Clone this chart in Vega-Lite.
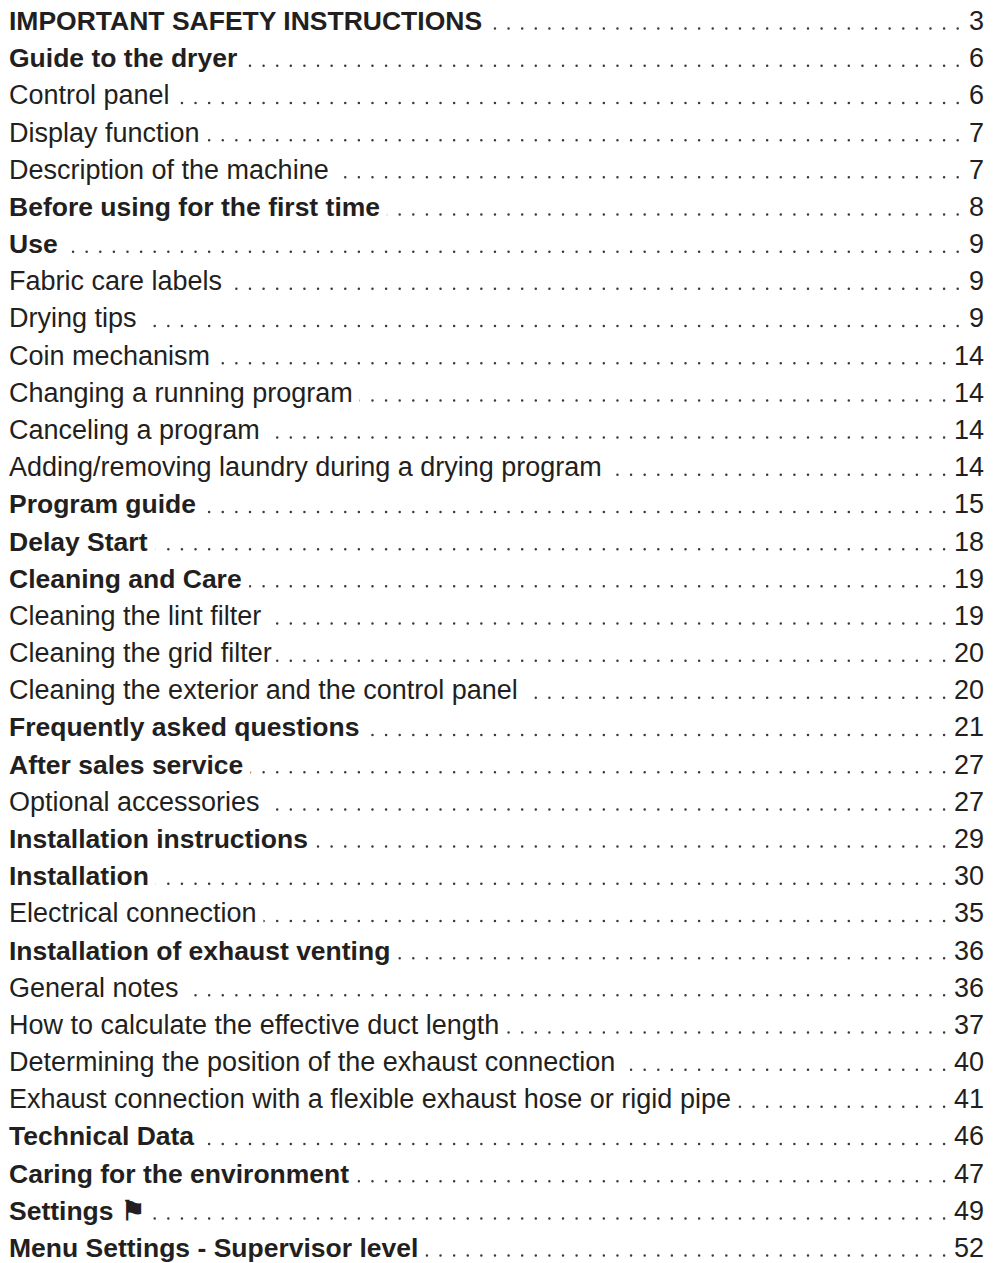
{
  "$schema": "https://vega.github.io/schema/vega-lite/v6.json",
  "width": 975,
  "height": 1227,
  "autosize": {"type": "none"},
  "padding": {"left": 9, "right": 10, "top": 30, "bottom": 6},
  "background": "white",
  "view": {"stroke": null},
  "config": {"text": {"font": "Liberation Sans", "fontSize": 27, "color": "#231f20"}},
  "data": {"values": [
    {"order": 1, "title": "IMPORTANT SAFETY INSTRUCTIONS", "page": "3", "level": 1},
    {"order": 2, "title": "Guide to the dryer", "page": "6", "level": 1},
    {"order": 3, "title": "Control panel", "page": "6", "level": 2},
    {"order": 4, "title": "Display function", "page": "7", "level": 2},
    {"order": 5, "title": "Description of the machine", "page": "7", "level": 2},
    {"order": 6, "title": "Before using for the first time", "page": "8", "level": 1},
    {"order": 7, "title": "Use", "page": "9", "level": 1},
    {"order": 8, "title": "Fabric care labels", "page": "9", "level": 2},
    {"order": 9, "title": "Drying tips", "page": "9", "level": 2},
    {"order": 10, "title": "Coin mechanism", "page": "14", "level": 2},
    {"order": 11, "title": "Changing a running program", "page": "14", "level": 2},
    {"order": 12, "title": "Canceling a program", "page": "14", "level": 2},
    {"order": 13, "title": "Adding/removing laundry during a drying program", "page": "14", "level": 2},
    {"order": 14, "title": "Program guide", "page": "15", "level": 1},
    {"order": 15, "title": "Delay Start", "page": "18", "level": 1},
    {"order": 16, "title": "Cleaning and Care", "page": "19", "level": 1},
    {"order": 17, "title": "Cleaning the lint filter", "page": "19", "level": 2},
    {"order": 18, "title": "Cleaning the grid filter", "page": "20", "level": 2},
    {"order": 19, "title": "Cleaning the exterior and the control panel", "page": "20", "level": 2},
    {"order": 20, "title": "Frequently asked questions", "page": "21", "level": 1},
    {"order": 21, "title": "After sales service", "page": "27", "level": 1},
    {"order": 22, "title": "Optional accessories", "page": "27", "level": 2},
    {"order": 23, "title": "Installation instructions", "page": "29", "level": 1},
    {"order": 24, "title": "Installation", "page": "30", "level": 1},
    {"order": 25, "title": "Electrical connection", "page": "35", "level": 2},
    {"order": 26, "title": "Installation of exhaust venting", "page": "36", "level": 1},
    {"order": 27, "title": "General notes", "page": "36", "level": 2},
    {"order": 28, "title": "How to calculate the effective duct length", "page": "37", "level": 2},
    {"order": 29, "title": "Determining the position of the exhaust connection", "page": "40", "level": 2},
    {"order": 30, "title": "Exhaust connection with a flexible exhaust hose or rigid pipe", "page": "41", "level": 2},
    {"order": 31, "title": "Technical Data", "page": "46", "level": 1},
    {"order": 32, "title": "Caring for the environment", "page": "47", "level": 1},
    {"order": 33, "title": "Settings ⚑", "page": "49", "level": 1},
    {"order": 34, "title": "Menu Settings - Supervisor level", "page": "52", "level": 1}
  ]},
  "encoding": {
    "y": {"field": "order", "type": "ordinal", "scale": {"type": "point", "padding": 0}, "axis": null}
  },
  "layer": [
    {
      "mark": {"type": "rule", "strokeDash": [0.01, 13.6], "strokeDashOffset": 4, "strokeCap": "round", "strokeWidth": 2.5, "color": "#3a3a3a", "yOffset": -1.4},
      "encoding": {"x": {"value": 0}, "x2": {"value": "width"}}
    },
    {
      "transform": [{"filter": "datum.level == 1"}],
      "mark": {"type": "text", "align": "left", "baseline": "alphabetic", "fontWeight": "bold", "fontSize": 26.5, "fill": "white", "stroke": "white", "strokeWidth": 17, "strokeJoin": "round"},
      "encoding": {"x": {"value": 0}, "text": {"field": "title"}}
    },
    {
      "transform": [{"filter": "datum.level == 2"}],
      "mark": {"type": "text", "align": "left", "baseline": "alphabetic", "fontWeight": "normal", "fill": "white", "stroke": "white", "strokeWidth": 17, "strokeJoin": "round"},
      "encoding": {"x": {"value": 0}, "text": {"field": "title"}}
    },
    {
      "mark": {"type": "text", "align": "right", "baseline": "alphabetic", "fill": "white", "stroke": "white", "strokeWidth": 10, "strokeJoin": "round"},
      "encoding": {"x": {"value": "width"}, "text": {"field": "page"}}
    },
    {
      "transform": [{"filter": "datum.level == 1"}],
      "mark": {"type": "text", "align": "left", "baseline": "alphabetic", "fontWeight": "bold", "fontSize": 26.5},
      "encoding": {"x": {"value": 0}, "text": {"field": "title"}}
    },
    {
      "transform": [{"filter": "datum.level == 2"}],
      "mark": {"type": "text", "align": "left", "baseline": "alphabetic", "fontWeight": "normal"},
      "encoding": {"x": {"value": 0}, "text": {"field": "title"}}
    },
    {
      "mark": {"type": "text", "align": "right", "baseline": "alphabetic"},
      "encoding": {"x": {"value": "width"}, "text": {"field": "page"}}
    }
  ]
}
